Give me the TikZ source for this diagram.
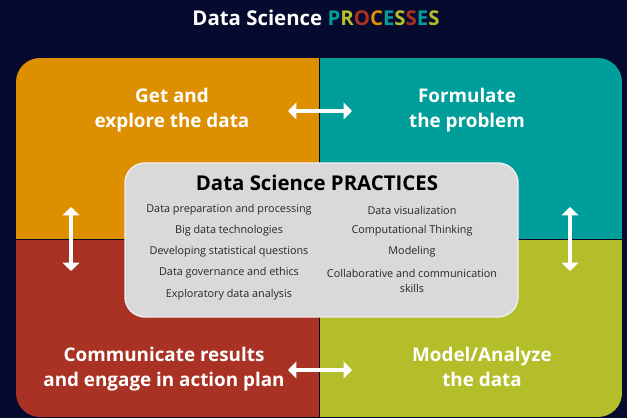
\documentclass[tikz,border=0pt]{standalone}
\usepackage{fontspec}
\setmainfont{Open Sans}
\usepackage{tikz}
\usetikzlibrary{arrows.meta}
\definecolor{navy}{RGB}{5,10,46}
\definecolor{procorange}{RGB}{222,143,0}
\definecolor{procteal}{RGB}{0,158,154}
\definecolor{procred}{RGB}{169,50,36}
\definecolor{procolive}{RGB}{180,190,42}
\definecolor{pracgray}{RGB}{217,217,217}
\definecolor{pracline}{RGB}{238,238,238}
\begin{document}
\begin{tikzpicture}[x=0.025cm, y=-0.025cm,
		quadlabel/.style={text=white, font=\bfseries\fontsize{13.4}{17.5}\selectfont, align=center},
		practice/.style={text=black!85, font=\fontsize{7.7}{10.6}\selectfont, align=center},
		swap/.style={white, line width=2.8pt, {Triangle[width=12pt, length=6pt]}-{Triangle[width=12pt, length=6pt]}}]
				% background and frame
				\fill[navy] (0,0) rectangle (627,418);
				\useasboundingbox (0,0) rectangle (627,418);
				\coordinate (NW) at (16,58);
				\coordinate (SE) at (622,417);
				\coordinate (M) at (319,239);
				\begin{scope}
					\clip[rounded corners=0.6cm] (NW) rectangle (SE);
					\fill[procorange] (NW) rectangle (M);
					\fill[procteal] (319,58) rectangle (622,239);
					\fill[procred] (16,239) rectangle (319,417);
					\fill[procolive] (M) rectangle (SE);
					\draw[navy!80!black, line width=0.6pt] (319,58) -- (319,417);
					\draw[navy!80!black, line width=0.6pt] (16,239) -- (622,239);
				\end{scope}
				\node[text=white, font=\bfseries\fontsize{14.5}{16}\selectfont] (title) at (316,18)
					{Data Science {\color{procteal}P}{\color{procolive}R}{\color{procred}O}{\color{procorange}C}{\color{procteal}E}{\color{procolive}S}{\color{procred}S}{\color{procteal}E}{\color{procolive}S}};
				% the four processes
				\node[quadlabel] (get) at (172,110) {Get and\\explore the data};
				\node[quadlabel] (formulate) at (467,110) {Formulate\\the problem};
				\node[quadlabel] (communicate) at (164,369) {Communicate results\\and engage in action plan};
				\node[quadlabel] (model) at (482,367) {Model/Analyze\\the data};
				% arrows between them
				\coordinate (t1) at (288,111);
				\coordinate (t2) at (352,111);
				\coordinate (b1) at (288,370);
				\coordinate (b2) at (352,370);
				\coordinate (l1) at (71,207);
				\coordinate (l2) at (71,271);
				\coordinate (r1) at (570,207);
				\coordinate (r2) at (570,271);
				\draw[swap] (t1) -- (t2);
				\draw[swap] (b1) -- (b2);
				\draw[swap] (l1) -- (l2);
				\draw[swap] (r1) -- (r2);
				% practices box
				\draw[pracline, fill=pracgray, line width=1pt, rounded corners=0.5cm] (125,163) rectangle (518,317) coordinate (boxse);
				\node[text=black, font=\bfseries\fontsize{14.5}{16}\selectfont] (practices) at (317,183) {Data Science PRACTICES};
				\node[practice] (p1) at (229,210) {Data preparation and processing};
				\node[practice] (p2) at (229,231) {Big data technologies};
				\node[practice] (p3) at (229,252) {Developing statistical questions};
				\node[practice] (p4) at (229,273) {Data governance and ethics};
				\node[practice] (p5) at (229,295) {Exploratory data analysis};
				\node[practice] (q1) at (412,210) {Data visualization};
				\node[practice] (q2) at (412,231) {Computational Thinking};
				\node[practice] (q3) at (412,252) {Modeling};
				\node[practice] (q4) at (412,280.5) {Collaborative and communication\\skills};
			\end{tikzpicture}
\end{document}
